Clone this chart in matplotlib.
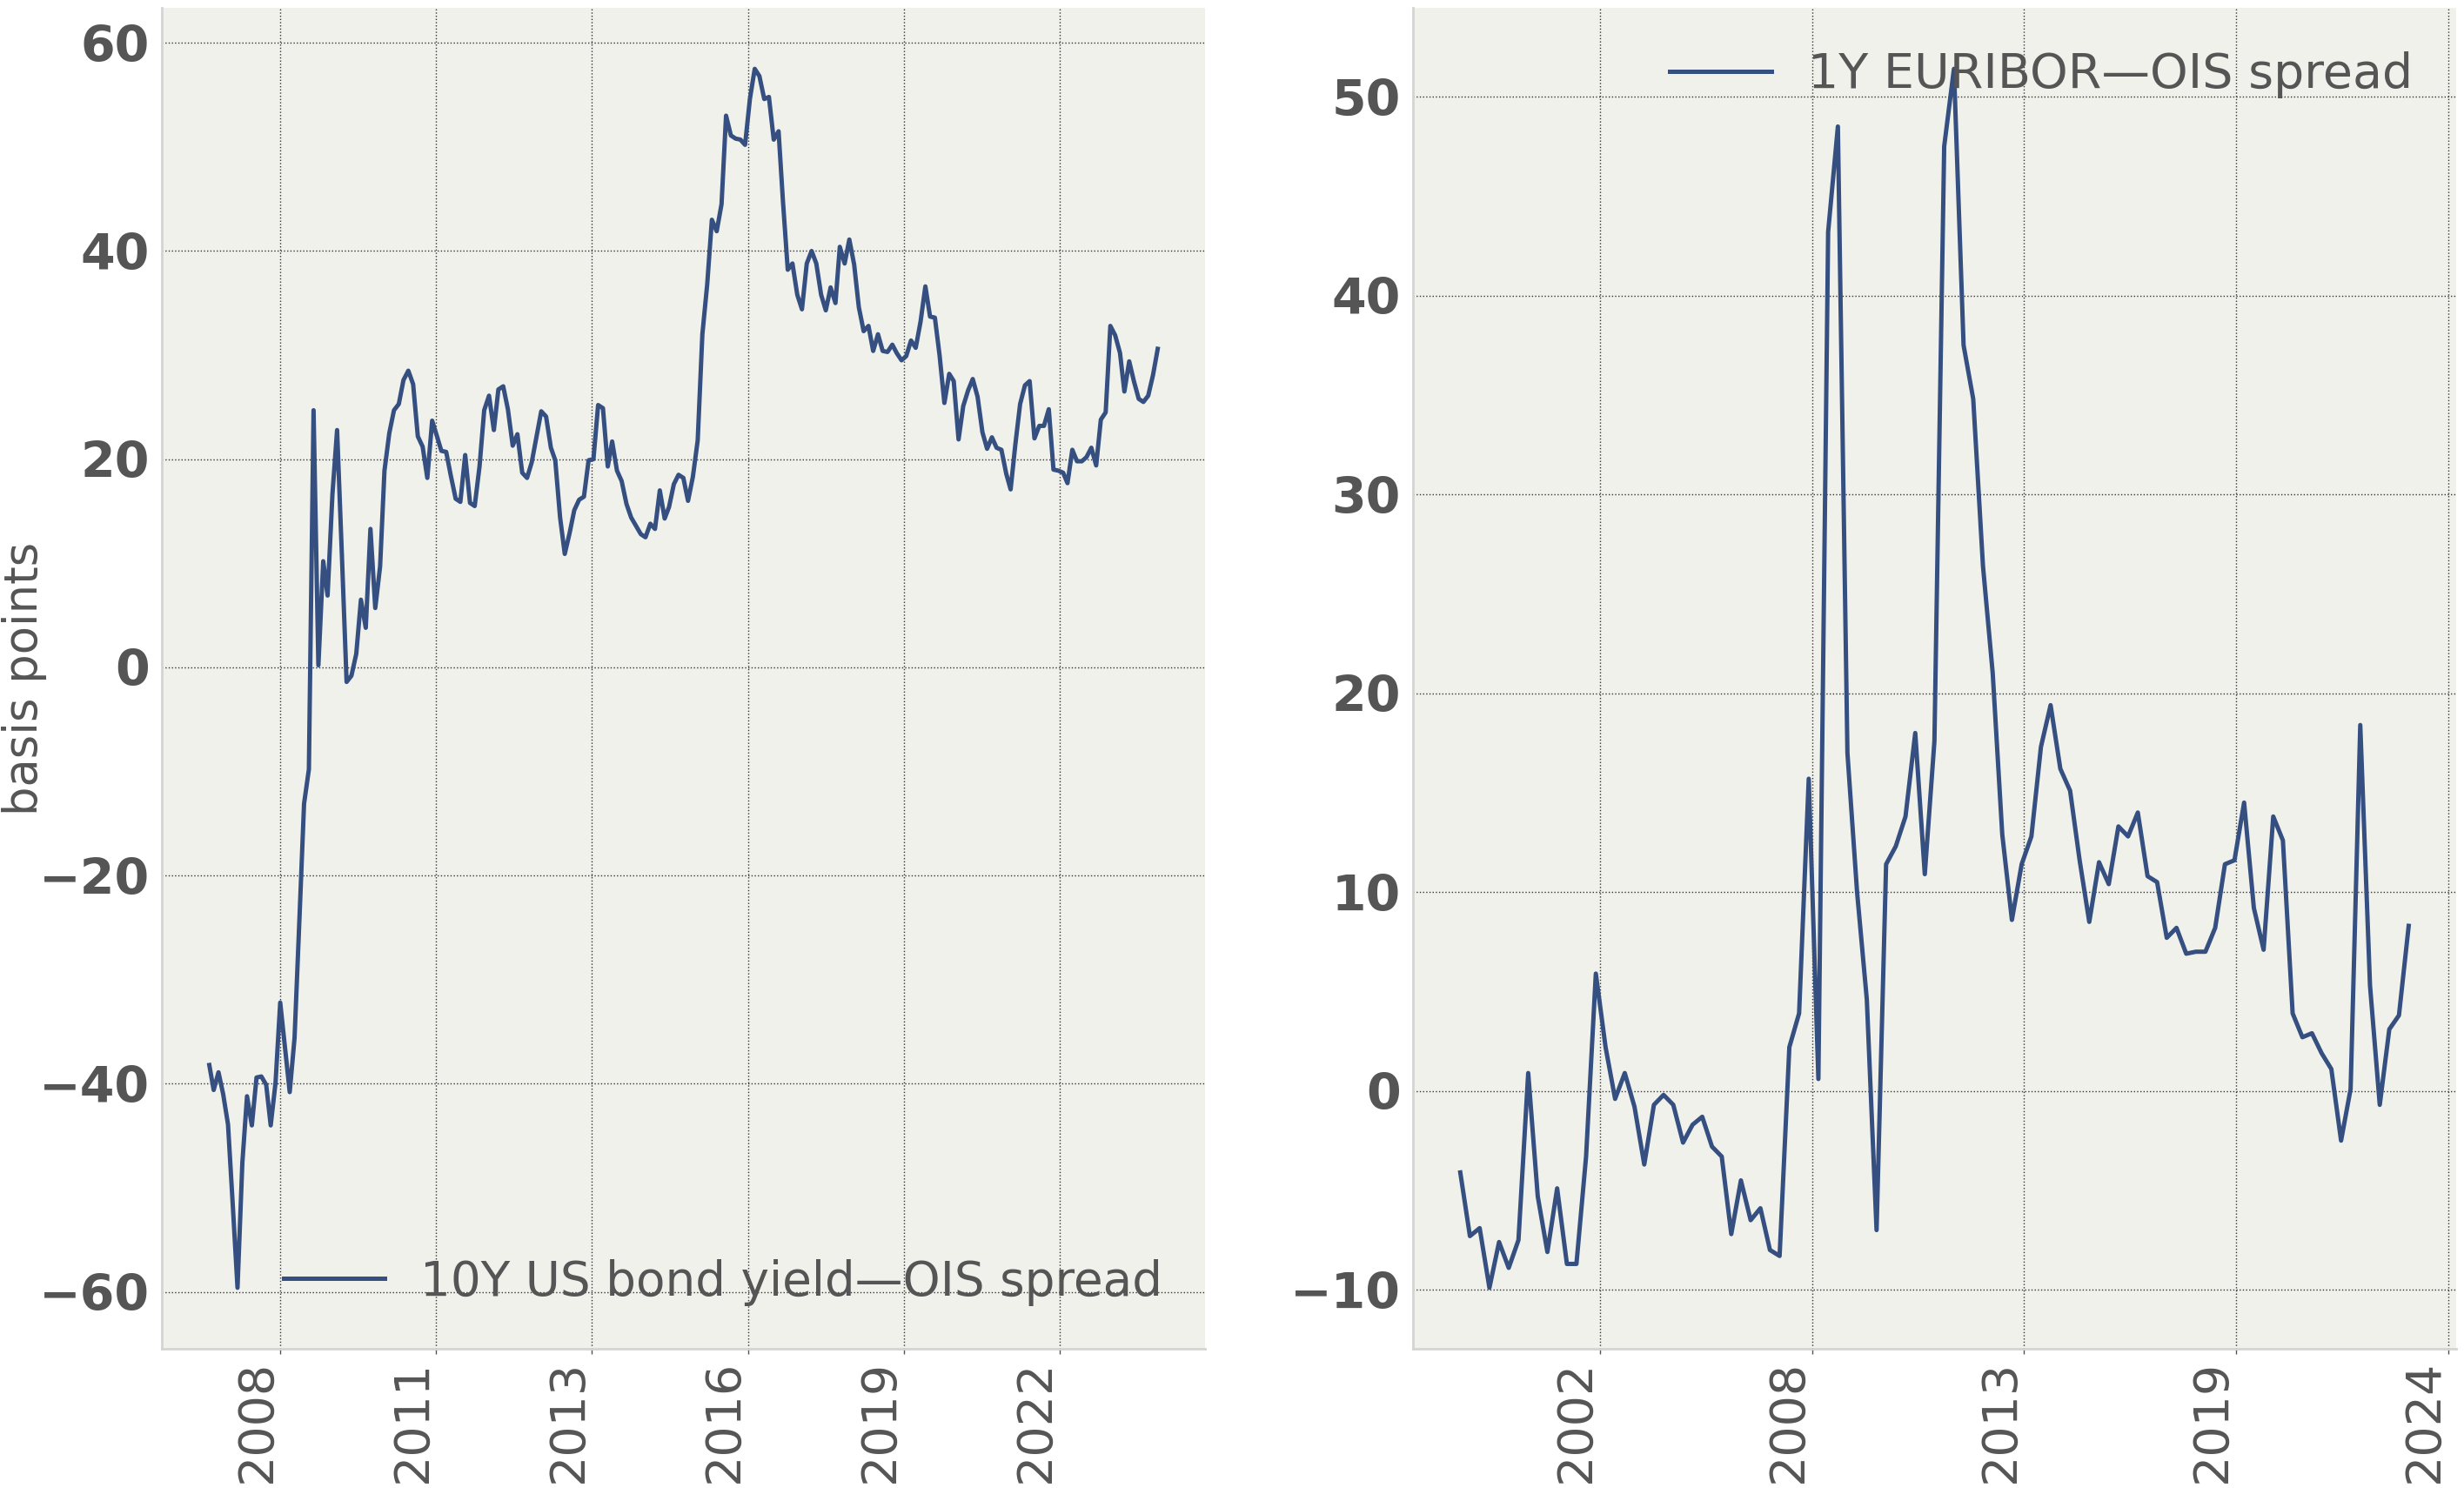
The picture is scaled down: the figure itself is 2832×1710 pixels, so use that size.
import matplotlib
matplotlib.use("Agg")
import matplotlib.pyplot as plt
import matplotlib.dates as mdates
from matplotlib.ticker import MultipleLocator
import pandas as pd

# 10Y US bond yield - OIS spread, monthly (bp), Jan 2007 - Sep 2023
us_values = [
    -38.2, -40.6, -38.9, -41.0, -43.9, -51.5, -59.6, -47.6, -41.2, -44.0,
    -39.4, -39.3, -40.1, -44.0, -39.9, -32.2, -36.6, -40.8, -35.6, -24.3,
    -13.1, -9.8, 24.7, 0.2, 10.2, 6.9, 16.6, 22.8, 10.7, -1.4,
    -0.8, 1.3, 6.5, 3.8, 13.3, 5.7, 9.7, 18.9, 22.5, 24.7,
    25.3, 27.6, 28.5, 27.2, 22.2, 21.2, 18.2, 23.7, 22.2, 20.8,
    20.7, 18.4, 16.2, 15.9, 20.4, 15.8, 15.5, 19.3, 24.7, 26.1,
    22.8, 26.7, 27.0, 24.8, 21.3, 22.4, 18.7, 18.2, 19.7, 22.2,
    24.6, 24.1, 21.1, 19.9, 14.4, 10.9, 12.9, 15.1, 16.1, 16.4,
    19.9, 20.0, 25.2, 24.9, 19.3, 21.7, 18.9, 17.9, 15.7, 14.4,
    13.6, 12.8, 12.5, 13.8, 13.3, 17.0, 14.3, 15.4, 17.6, 18.5,
    18.2, 16.0, 18.3, 21.8, 32.0, 36.8, 43.0, 41.9, 44.5, 53.0,
    51.1, 50.8, 50.7, 50.2, 54.6, 57.5, 56.8, 54.6, 54.8, 50.7,
    51.5, 44.8, 38.2, 38.8, 35.8, 34.4, 38.8, 40.0, 38.8, 35.8,
    34.3, 36.5, 35.0, 40.4, 38.8, 41.1, 38.7, 34.6, 32.3, 32.8,
    30.4, 32.0, 30.4, 30.3, 31.0, 30.2, 29.5, 29.9, 31.4, 30.7,
    33.2, 36.6, 33.7, 33.6, 30.0, 25.4, 28.2, 27.5, 21.9, 25.1,
    26.6, 27.7, 26.0, 22.6, 21.0, 22.1, 21.1, 20.9, 18.6, 17.1,
    21.5, 25.3, 27.1, 27.5, 22.0, 23.2, 23.2, 24.8, 19.0, 18.9,
    18.7, 17.7, 20.9, 19.8, 19.8, 20.2, 21.1, 19.4, 23.8, 24.5,
    32.8, 31.9, 30.2, 26.5, 29.4, 27.5, 25.8, 25.5, 26.1, 28.1,
    30.6,
]
us_dates = pd.date_range("2007-01-31", periods=len(us_values), freq="ME")

# 1Y EURIBOR - OIS spread, quarterly (bp), 1999Q1 - 2023Q3
eu_values = [
    -4.1, -7.3, -6.9, -9.9, -7.6, -8.9, -7.5, 0.9, -5.3, -8.1,
    -4.9, -8.7, -8.7, -3.3, 5.9, 2.2, -0.4, 0.9, -0.8, -3.7,
    -0.7, -0.2, -0.7, -2.6, -1.7, -1.3, -2.8, -3.3, -7.2, -4.5,
    -6.5, -5.9, -8.0, -8.3, 2.2, 3.9, 15.7, 0.6, 43.2, 48.5,
    17.0, 10.0, 4.6, -7.0, 11.4, 12.3, 13.8, 18.0, 10.9, 17.6,
    47.5, 51.4, 37.5, 34.8, 26.4, 21.0, 12.9, 8.6, 11.4, 12.8,
    17.3, 19.4, 16.2, 15.1, 11.6, 8.5, 11.5, 10.4, 13.3, 12.8,
    14.0, 10.8, 10.5, 7.7, 8.2, 6.9, 7.0, 7.0, 8.2, 11.4,
    11.6, 14.5, 9.2, 7.1, 13.8, 12.6, 3.9, 2.7, 2.9, 1.9,
    1.1, -2.5, 0.1, 18.4, 5.3, -0.7, 3.1, 3.8, 8.3,
]
eu_dates = pd.date_range("1999-03-31", periods=len(eu_values), freq="QE")

us_label = "10Y US bond yield\u2014OIS spread"
eu_label = "1Y EURIBOR\u2014OIS spread"
us_yticks = [-60, -40, -20, 0, 20, 40, 60]
eu_yticks = [-10, 0, 10, 20, 30, 40, 50]

line_color = "#344f80"
text_color = "#555555"
face_color = "#f1f1ec"

plt.rcParams["font.family"] = ["DejaVu Sans"]

fig = plt.figure(figsize=(28.32, 17.10), dpi=100)
ax1 = fig.add_axes([0.0657, 0.0936, 0.4234, 0.9011])
ax2 = fig.add_axes([0.5734, 0.0936, 0.4234, 0.9011])

ax1.plot(us_dates, us_values, color=line_color, lw=3.6, label=us_label)
ax2.plot(eu_dates, eu_values, color=line_color, lw=3.6, label=eu_label)

ax1.set_yticks(us_yticks)
ax2.set_yticks(eu_yticks)
ax1.xaxis.set_major_locator(MultipleLocator(1000))
ax2.xaxis.set_major_locator(MultipleLocator(2000))

for ax in (ax1, ax2):
    ax.set_facecolor(face_color)
    ax.xaxis.set_major_formatter(mdates.DateFormatter("%Y"))
    ax.grid(True, color="#333333", linestyle=":", linewidth=1.0)
    ax.set_axisbelow(True)
    for side in ("top", "right"):
        ax.spines[side].set_visible(False)
    for side in ("left", "bottom"):
        ax.spines[side].set_color("#d4d4d4")
        ax.spines[side].set_linewidth(2)
    ax.tick_params(axis="x", labelsize=40, labelcolor=text_color, rotation=90,
                   color="#555555", length=4, width=1, pad=5)
    ax.tick_params(axis="y", labelsize=41, labelcolor=text_color,
                   length=0, pad=10)
    for lab in ax.get_xticklabels():
        lab.set_ha("right")
    for lab in ax.get_yticklabels():
        lab.set_fontweight("bold")

leg1 = ax1.legend(loc="lower right", frameon=False, fontsize=39.5,
                  handlelength=2.1, handletextpad=0.75)
leg2 = ax2.legend(loc="upper right", frameon=False, fontsize=40,
                  handlelength=2.1, handletextpad=0.75)
for leg in (leg1, leg2):
    for t in leg.get_texts():
        t.set_color(text_color)

ax1.set_ylabel("basis points", fontsize=38, color=text_color)
ax1.yaxis.set_label_coords(-0.110, 0.5)

fig.savefig("out.png", dpi=100, facecolor="white")
